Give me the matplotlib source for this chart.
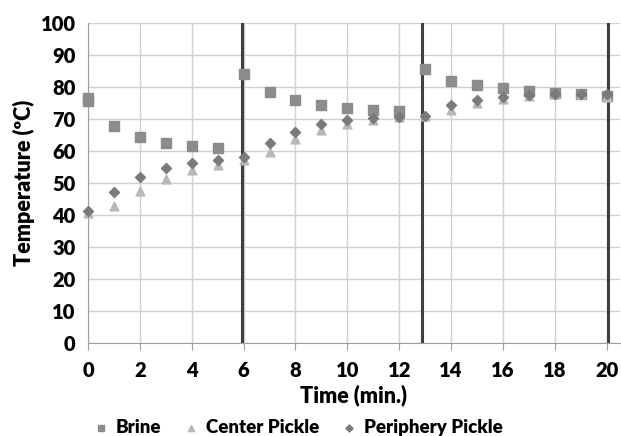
import matplotlib
matplotlib.use('Agg')
import matplotlib.pyplot as plt
import numpy as np

plt.rcParams['font.family'] = ['Lato', 'DejaVu Sans']
plt.rcParams['font.weight'] = 'heavy'

# data
time_brine = [0, 0, 1, 2, 3, 4, 5, 6, 7, 8, 9, 10, 11, 12, 13, 14, 15, 16, 17, 18, 19, 20]
brine = [76.6, 75.7, 67.8, 64.5, 62.7, 61.7, 60.9, 84.1, 78.6, 76.1, 74.4, 73.6, 72.9, 72.5,
         85.6, 82.1, 80.6, 79.8, 78.8, 78.2, 78.0, 77.4]
time_pickle = list(range(21))
center = [40.6, 42.9, 47.5, 51.3, 54.1, 55.7, 57.3, 59.7, 63.7, 66.7, 68.5, 69.9, 70.6, 70.9,
          72.9, 75.0, 76.3, 77.4, 77.9, 77.9, 77.0]
periphery = [41.3, 47.2, 52.0, 54.8, 56.4, 57.3, 58.3, 62.5, 66.1, 68.5, 69.7, 70.4, 70.8, 71.1,
             74.4, 76.1, 77.1, 77.6, 77.9, 78.0, 77.8]
change_times = [5.95, 12.9, 20.05]

fig = plt.figure(figsize=(6.21, 4.36), dpi=100)
ax = fig.add_axes([0.1417, 0.2126, 0.856, 0.734])

ax.scatter(time_brine, brine, marker='s', s=42, color='#8c8c8c', label='Brine', zorder=3, clip_on=False)
ax.scatter(time_pickle, center, marker='^', s=40, color='#b8b8b8', label='Center Pickle', zorder=3, clip_on=False)
ax.scatter(time_pickle, periphery, marker='D', s=26, color='#7a7a7a', label='Periphery Pickle', zorder=4, clip_on=False)

for t in change_times:
    ax.axvline(t, color='#404040', lw=2.2, zorder=2)

ax.set_xlim(0, 20.5)
ax.set_ylim(0, 100)
ax.set_xticks(np.arange(0, 21, 2))
ax.set_yticks(np.arange(0, 101, 10))
ax.grid(True, color='#d0d0d0', lw=1, zorder=0)
ax.set_axisbelow(True)

for s in ['top', 'right']:
    ax.spines[s].set_visible(False)
for s in ['left', 'bottom']:
    ax.spines[s].set_color('#a0a0a0')
ax.tick_params(axis='y', length=0, labelsize=14.5, pad=9)
ax.tick_params(axis='x', length=5, color='#a0a0a0', labelsize=14.5, pad=8)

ax.set_xlabel('Time (min.)', fontsize=15.5, fontweight='heavy', labelpad=3)
ax.set_ylabel('Temperature (\u00baC)', fontsize=15.5, fontweight='heavy', labelpad=4)

fig.legend(loc='center', bbox_to_anchor=(0.48, 0.02), ncol=3, frameon=False,
           fontsize=13.5, handlelength=0.8, handletextpad=0.4, columnspacing=1.2, markerscale=0.7)

fig.savefig('out.png', dpi=100)
